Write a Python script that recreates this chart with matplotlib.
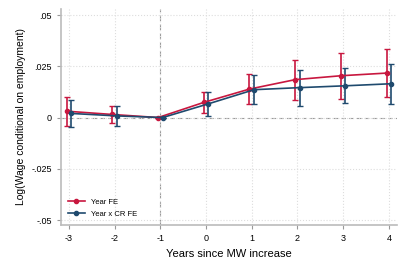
import numpy as np
import matplotlib
matplotlib.use("Agg")
import matplotlib.pyplot as plt
from matplotlib.lines import Line2D

plt.rcParams['font.family'] = ['Liberation Sans', 'DejaVu Sans']

years = [-3, -2, -1, 0, 1, 2, 3, 4]

# Year FE
red_b = [0.0031, 0.0015, 0.0, 0.0074, 0.0139, 0.0185, 0.0204, 0.0217]
red_lo = [-0.0041, -0.0028, 0.0, 0.0021, 0.0067, 0.0087, 0.0090, 0.0098]
red_hi = [0.0100, 0.0055, 0.0, 0.0124, 0.0212, 0.0283, 0.0317, 0.0335]

# Year x CR FE
blue_b = [0.0020, 0.0008, 0.0, 0.0067, 0.0136, 0.0146, 0.0155, 0.0165]
blue_lo = [-0.0044, -0.0039, 0.0, 0.0008, 0.0064, 0.0057, 0.0069, 0.0067]
blue_hi = [0.0087, 0.0054, 0.0, 0.0124, 0.0207, 0.0232, 0.0242, 0.0263]

yticks = [-0.05, -0.025, 0, 0.025, 0.05]
ytick_labels = ["-.05", "-.025", "0", ".025", ".05"]

red = "#c8173f"
blue = "#1f4a6e"
gray = "#999999"

fig = plt.figure(figsize=(4.07, 2.71), dpi=100)
ax = fig.add_axes([0.150, 0.170, 0.825, 0.797])

x = np.array(years, dtype=float)

def draw(xs, b, lo, hi, color):
    b = np.array(b); lo = np.array(lo); hi = np.array(hi)
    ax.errorbar(xs, b, yerr=[b - lo, hi - b], color=color, lw=1.2,
                marker='o', ms=3, capsize=2, elinewidth=1.2, capthick=1,
                zorder=3)

draw(x - 0.05, red_b, red_lo, red_hi, red)
draw(x + 0.05, blue_b, blue_lo, blue_hi, blue)

ax.axhline(0, color=gray, lw=0.8, ls=(0, (4, 3)), zorder=1)
ax.axvline(-1, color=gray, lw=0.8, ls=(0, (5, 3)), zorder=1)

ax.set_xlim(-3.175, 4.175)
ax.set_ylim(-0.0524, 0.053)
ax.set_xticks(years)
ax.set_xticklabels([str(v) for v in years])
ax.set_yticks(yticks)
ax.set_yticklabels(ytick_labels)
ax.grid(True, color="#dddddd", ls=':', lw=0.8, zorder=0)

for s in ['top', 'right']:
    ax.spines[s].set_visible(False)
ax.spines['left'].set_color("#bbbbbb")
ax.spines['bottom'].set_color("#bbbbbb")
ax.spines['left'].set_linewidth(1.2)
ax.spines['bottom'].set_linewidth(1.2)
ax.tick_params(colors="#999999", labelcolor="black", length=3, width=0.8,
               labelsize=6.5)

ax.set_xlabel("Years since MW increase", fontsize=8)
ax.set_ylabel("Log(Wage conditional on employment)", fontsize=7.5)

handles = [Line2D([], [], color=red, lw=1.2, marker='o', ms=3),
           Line2D([], [], color=blue, lw=1.2, marker='o', ms=3)]
ax.legend(handles, ["Year FE", "Year x CR FE"], loc='lower left',
          frameon=False, fontsize=5.5, handlelength=2.2,
          borderaxespad=0.5, labelspacing=0.6)

fig.savefig("out.png", dpi=100)
